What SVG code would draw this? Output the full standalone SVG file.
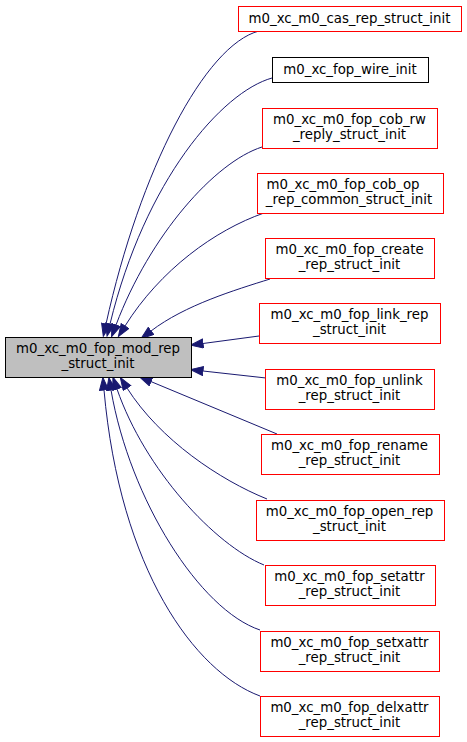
<svg xmlns="http://www.w3.org/2000/svg" width="467" height="742" viewBox="0 0 467 742">
<style>
text{font-family:"DejaVu Sans",sans-serif;font-size:13.33px;fill:#000;text-anchor:middle}
.e path{fill:none;stroke:#191970;stroke-width:1;marker-end:url(#ah)}
</style>
<defs>
<marker id="ah" markerUnits="userSpaceOnUse" markerWidth="14" markerHeight="11" refX="0.5" refY="5" orient="auto">
<path d="M0.5,0.5 L13,5 L0.5,9.5 z" fill="#191970" stroke="#191970" stroke-width="1"/>
</marker>
</defs>
<rect width="467" height="742" fill="#fff"/>
<g id="edges" class="e">
<path d="M259,31 C205,45 140,170 106,324"/>
<path d="M272,78 C222,92 145,180 110,324"/>
<path d="M262,147 C215,162 150,235 116,325"/>
<path d="M264,213 C215,230 160,270 125,326"/>
<path d="M270,279 C235,290 185,305 151,331"/>
<path d="M259,336 L203,343.5"/>
<path d="M266,378 L203,371"/>
<path d="M277,434 L151,381.6"/>
<path d="M267,499 C220,480 160,440 127,388"/>
<path d="M264,565 C215,545 145,470 117,389"/>
<path d="M260,630 C200,610 130,500 111,390"/>
<path d="M260,696 C195,672 120,570 104,390"/>
</g>
<g id="main"><rect x="5.5" y="337.5" width="186" height="40" fill="#bfbfbf" stroke="#000000"/><text x="98" y="353">m0_xc_m0_fop_mod_rep</text><text x="98" y="368">_struct_init</text></g>
<g id="cas"><rect x="238.5" y="6.5" width="223" height="25" fill="#ffffff" stroke="#ff0000"/><text x="349.5" y="22.5">m0_xc_m0_cas_rep_struct_init</text></g>
<g id="wire"><rect x="272.5" y="57.5" width="156" height="25" fill="#ffffff" stroke="#000000"/><text x="350" y="73.5">m0_xc_fop_wire_init</text></g>
<g id="cob_rw"><rect x="262.5" y="108.5" width="175" height="40" fill="#ffffff" stroke="#ff0000"/><text x="349.5" y="124">m0_xc_m0_fop_cob_rw</text><text x="349.5" y="139">_reply_struct_init</text></g>
<g id="cob_op"><rect x="257.5" y="173.5" width="186" height="40" fill="#ffffff" stroke="#ff0000"/><text x="343" y="189">m0_xc_m0_fop_cob_op</text><text x="349" y="204">_rep_common_struct_init</text></g>
<g id="create"><rect x="265.5" y="238.5" width="169" height="40" fill="#ffffff" stroke="#ff0000"/><text x="349.5" y="254">m0_xc_m0_fop_create</text><text x="349.5" y="269">_rep_struct_init</text></g>
<g id="link_rep"><rect x="259.5" y="303.5" width="181" height="40" fill="#ffffff" stroke="#ff0000"/><text x="349.5" y="319">m0_xc_m0_fop_link_rep</text><text x="349.5" y="334">_struct_init</text></g>
<g id="unlink"><rect x="265.5" y="369.5" width="169" height="40" fill="#ffffff" stroke="#ff0000"/><text x="349.5" y="385">m0_xc_m0_fop_unlink</text><text x="349.5" y="400">_rep_struct_init</text></g>
<g id="rename"><rect x="261.5" y="434.5" width="178" height="40" fill="#ffffff" stroke="#ff0000"/><text x="349.5" y="450">m0_xc_m0_fop_rename</text><text x="349.5" y="465">_rep_struct_init</text></g>
<g id="open_rep"><rect x="256.5" y="500.5" width="188" height="40" fill="#ffffff" stroke="#ff0000"/><text x="349.5" y="516">m0_xc_m0_fop_open_rep</text><text x="349.5" y="531">_struct_init</text></g>
<g id="setattr"><rect x="265.5" y="565.5" width="170" height="40" fill="#ffffff" stroke="#ff0000"/><text x="349.5" y="581">m0_xc_m0_fop_setattr</text><text x="349.5" y="596">_rep_struct_init</text></g>
<g id="setxattr"><rect x="260.5" y="631.5" width="179" height="40" fill="#ffffff" stroke="#ff0000"/><text x="349.5" y="647">m0_xc_m0_fop_setxattr</text><text x="349.5" y="662">_rep_struct_init</text></g>
<g id="delxattr"><rect x="260.5" y="696.5" width="179" height="40" fill="#ffffff" stroke="#ff0000"/><text x="349.5" y="712">m0_xc_m0_fop_delxattr</text><text x="349.5" y="727">_rep_struct_init</text></g>
</svg>
